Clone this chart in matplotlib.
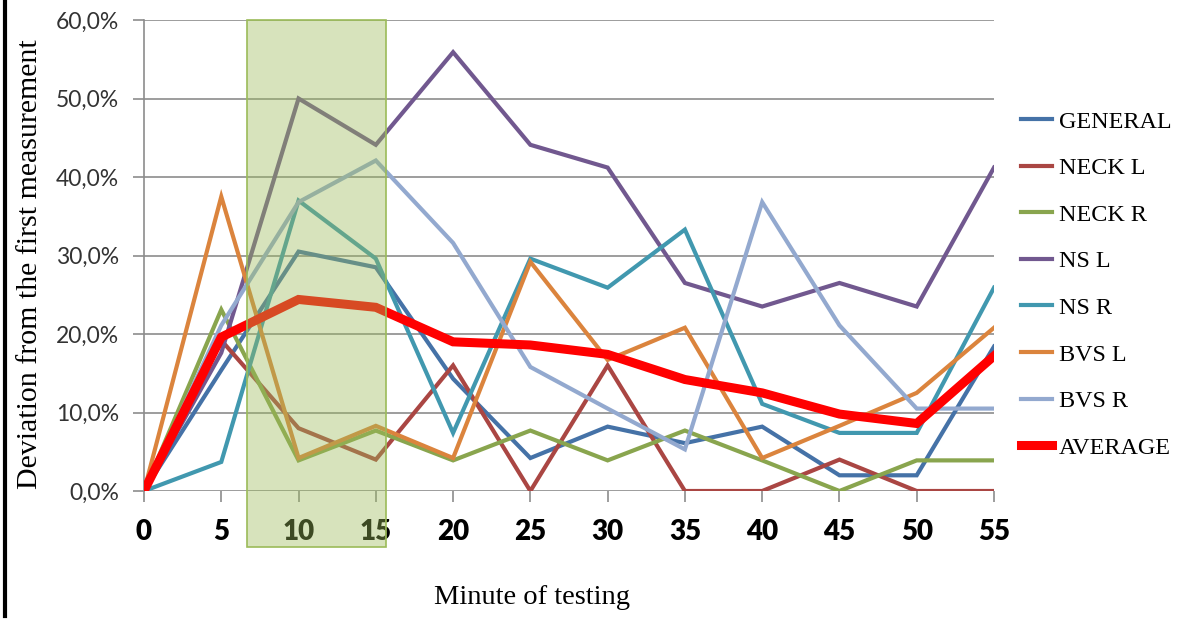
import matplotlib
matplotlib.use("Agg")
import matplotlib.pyplot as plt
from matplotlib.patches import Rectangle
from matplotlib.lines import Line2D
from matplotlib.ticker import FuncFormatter

minutes = [0, 5, 10, 15, 20, 25, 30, 35, 40, 45, 50, 55]
general = [0, 15.4, 30.5, 28.5, 14.3, 4.2, 8.2, 6.1, 8.2, 2.0, 2.0, 18.4]
neck_l = [0, 19.2, 8.0, 4.0, 16.0, 0, 16.0, 0, 0, 4.0, 0, 0]
neck_r = [0, 23.1, 3.9, 7.7, 3.9, 7.7, 3.9, 7.7, 3.9, 0, 3.9, 3.9]
ns_l = [0, 17.6, 50.0, 44.1, 55.9, 44.1, 41.2, 26.5, 23.5, 26.5, 23.5, 41.2]
ns_r = [0, 3.7, 37.0, 29.6, 7.4, 29.6, 25.9, 33.3, 11.1, 7.4, 7.4, 25.9]
bvs_l = [0, 37.5, 4.2, 8.3, 4.2, 29.2, 16.7, 20.8, 4.2, 8.3, 12.5, 20.8]
bvs_r = [0, 21.1, 36.8, 42.1, 31.6, 15.8, 10.5, 5.3, 36.8, 21.1, 10.5, 10.5]
average = [0, 19.6, 24.4, 23.4, 19.0, 18.6, 17.4, 14.2, 12.5, 9.8, 8.6, 17.2]

series_names = ["GENERAL", "NECK L", "NECK R", "NS L", "NS R", "BVS L", "BVS R", "AVERAGE"]
series_vals = [general, neck_l, neck_r, ns_l, ns_r, bvs_l, bvs_r, average]
colors = ["#4572A7", "#AA4643", "#89A54E", "#71588F", "#4198AF", "#DB843D", "#93A9CF", "#FF0000"]
y_ticks = [0, 10, 20, 30, 40, 50, 60]
highlight = (6.66, 15.66)

fig = plt.figure(figsize=(11.85, 6.19), dpi=100)
ax = fig.add_axes([144/1185, 1-491/619, 850/1185, 471/619])

for name, vals, c in zip(series_names, series_vals, colors):
    lw = 6.5 if name == "AVERAGE" else 3.0
    ax.plot(minutes, vals, color=c, lw=lw, label=name, solid_joinstyle="miter", zorder=3)

ax.set_xlim(0, 55)
ax.set_ylim(0, 60)
ax.set_yticks(y_ticks)
ax.yaxis.set_major_formatter(FuncFormatter(lambda v, p: f"{v:.1f}%".replace(".", ",")))
ax.set_xticks(minutes)
ax.grid(axis="y", color="#8c8c8c", lw=1.2, zorder=0)
ax.set_axisbelow(True)
for s in ["top", "right", "bottom"]:
    ax.spines[s].set_visible(False)
ax.spines["left"].set_color("#8c8c8c")
ax.spines["left"].set_linewidth(1.2)
ax.tick_params(axis="y", length=8, width=1.2, color="#8c8c8c", labelsize=16.5, labelcolor="#333333", pad=10)
ax.tick_params(axis="x", length=8, width=1.2, color="#8c8c8c", labelsize=20, pad=12)
for t in ax.get_yticklabels():
    t.set_fontfamily("Lato")
for t in ax.get_xticklabels():
    t.set_fontfamily("Lato")
    t.set_fontweight("heavy")

rect = Rectangle((highlight[0], -7.1), highlight[1]-highlight[0], 67.1,
                 facecolor="#9BBB59", alpha=0.4, edgecolor="none", clip_on=False, zorder=5)
ax.add_patch(rect)
rect2 = Rectangle((highlight[0], -7.1), highlight[1]-highlight[0], 67.1,
                  facecolor="none", edgecolor="#9BBB59", lw=1.2, clip_on=False, zorder=6)
ax.add_patch(rect2)

fig.text(30/1185, 1-264/619, "Deviation from the first measurement", fontfamily="Liberation Serif",
         fontsize=21.5, rotation=90, ha="center", va="center")
fig.text(532/1185, 1-598/619, "Minute of testing", fontfamily="Liberation Serif", fontsize=20.5,
         ha="center", va="center")

leg = ax.legend(loc="center left", bbox_to_anchor=(1.018, 0.438), frameon=False, borderpad=0,
                prop={"family": "Liberation Serif", "size": 17.4}, handlelength=1.25,
                labelspacing=1.02, handletextpad=0.3)

fig.add_artist(Line2D([5/1185, 5/1185], [0.005, 1], color="black", lw=3))

fig.savefig("out.png", dpi=100)
